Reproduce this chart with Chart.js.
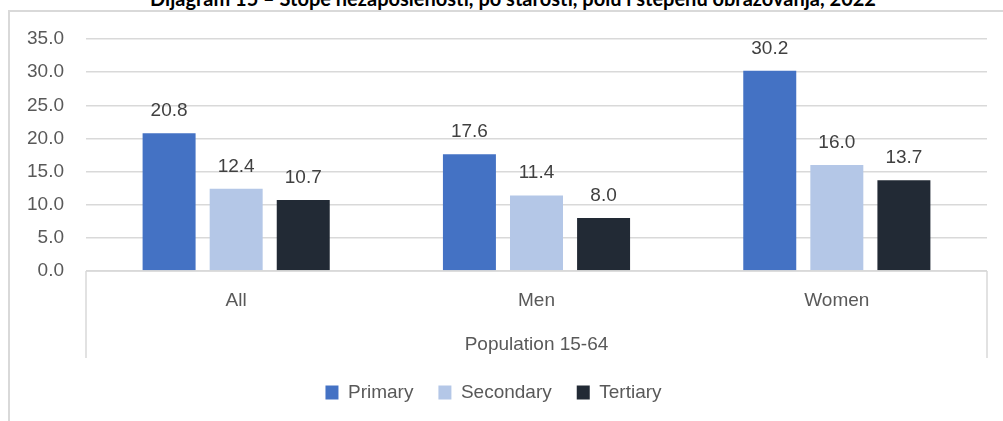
<!DOCTYPE html>
<html>
<head>
<meta charset="utf-8">
<script src="https://cdn.jsdelivr.net/npm/chart.js@4"></script>
<style>
  html, body { margin: 0; padding: 0; background: #fff; }
  #wrap { position: relative; width: 1003px; height: 421px; overflow: hidden; }
  #frame { position: absolute; left: 8px; top: 10px; width: 1100px; height: 500px;
           border-left: 2px solid #d9d9d9; border-top: 2px solid #d9d9d9; box-sizing: border-box; }
  #title { position: absolute; left: 0; width: 1026px; top: -12px; text-align: center;
           font: bold 20px Lato, "Liberation Sans", sans-serif; line-height: 20px; color: #000; white-space: nowrap; }
  #c { position: absolute; left: 0; top: 0; }
</style>
</head>
<body>
<div id="wrap">
  <div id="frame"></div>
  <div id="title">Dijagram 15 – Stope nezaposlenosti, po starosti, polu i stepenu obrazovanja, 2022</div>
  <canvas id="c" width="1003" height="421"></canvas>
</div>
<script>
// Unemployment rates by education level, population 15-64
const categories = ['All', 'Men', 'Women'];
const groupTitle = 'Population 15-64';
const seriesNames = ['Primary', 'Secondary', 'Tertiary'];
const primary = [20.8, 17.6, 30.2];
const secondary = [12.4, 11.4, 16.0];
const tertiary = [10.7, 8.0, 13.7];
const yTicks = [0, 5, 10, 15, 20, 25, 30, 35];

const colors = ['#4472C4', '#B4C7E7', '#222A35'];
const FONT = '"Liberation Sans", Arial, sans-serif';
const SIZE = 19;

// Value labels above each bar
const valueLabels = {
  id: 'valueLabels',
  afterDatasetsDraw(chart) {
    const ctx = chart.ctx;
    ctx.save();
    ctx.font = SIZE + 'px ' + FONT;
    ctx.fillStyle = '#404040';
    ctx.textAlign = 'center';
    ctx.textBaseline = 'alphabetic';
    chart.data.datasets.forEach((ds, i) => {
      chart.getDatasetMeta(i).data.forEach((bar, j) => {
        ctx.fillText(ds.data[j].toFixed(1), bar.x, bar.y - 17);
      });
    });
    ctx.restore();
  }
};

// Outline of the category axis box
const axisBox = {
  id: 'axisBox',
  afterDraw(chart) {
    const { ctx, chartArea } = chart;
    ctx.save();
    ctx.strokeStyle = '#d9d9d9';
    ctx.lineWidth = 1.5;
    ctx.beginPath();
    ctx.moveTo(chartArea.left, chartArea.bottom);
    ctx.lineTo(chartArea.left, chartArea.bottom + 87);
    ctx.moveTo(chartArea.right, chartArea.bottom);
    ctx.lineTo(chartArea.right, chartArea.bottom + 87);
    ctx.moveTo(chartArea.left, chartArea.bottom);
    ctx.lineTo(chartArea.right, chartArea.bottom);
    ctx.stroke();
    ctx.restore();
  }
};

new Chart(document.getElementById('c'), {
  type: 'bar',
  data: {
    labels: categories,
    datasets: [
      { label: seriesNames[0], data: primary, backgroundColor: colors[0] },
      { label: seriesNames[1], data: secondary, backgroundColor: colors[1] },
      { label: seriesNames[2], data: tertiary, backgroundColor: colors[2] }
    ]
  },
  options: {
    responsive: false,
    animation: false,
    layout: { padding: { top: 39, right: 16, left: 0, bottom: 9 } },
    datasets: { bar: { categoryPercentage: 0.67, barPercentage: 0.79 } },
    scales: {
      x: {
        grid: { display: false, drawTicks: false },
        border: { display: false },
        ticks: { color: '#595959', font: { family: FONT, size: SIZE }, padding: 18 },
        title: { display: true, text: groupTitle, color: '#595959',
                 font: { family: FONT, size: SIZE }, padding: { top: 20, bottom: 2 } },
        afterFit(s) { s.height = 87; }
      },
      y: {
        min: 0, max: 35,
        afterBuildTicks(s) { s.ticks = yTicks.map(v => ({ value: v })); },
        grid: { color: '#d9d9d9', lineWidth: 1.5, drawTicks: false },
        border: { display: false },
        ticks: { color: '#595959', font: { family: FONT, size: SIZE }, padding: 22,
                 callback: v => Number(v).toFixed(1) },
        afterFit(s) { s.width = 86; }
      }
    },
    plugins: {
      legend: {
        position: 'bottom',
        labels: { color: '#595959', font: { family: FONT, size: SIZE }, boxWidth: 13, boxHeight: 14, padding: 25 }
      },
      tooltip: { enabled: false }
    }
  },
  plugins: [valueLabels, axisBox]
});
</script>
</body>
</html>
